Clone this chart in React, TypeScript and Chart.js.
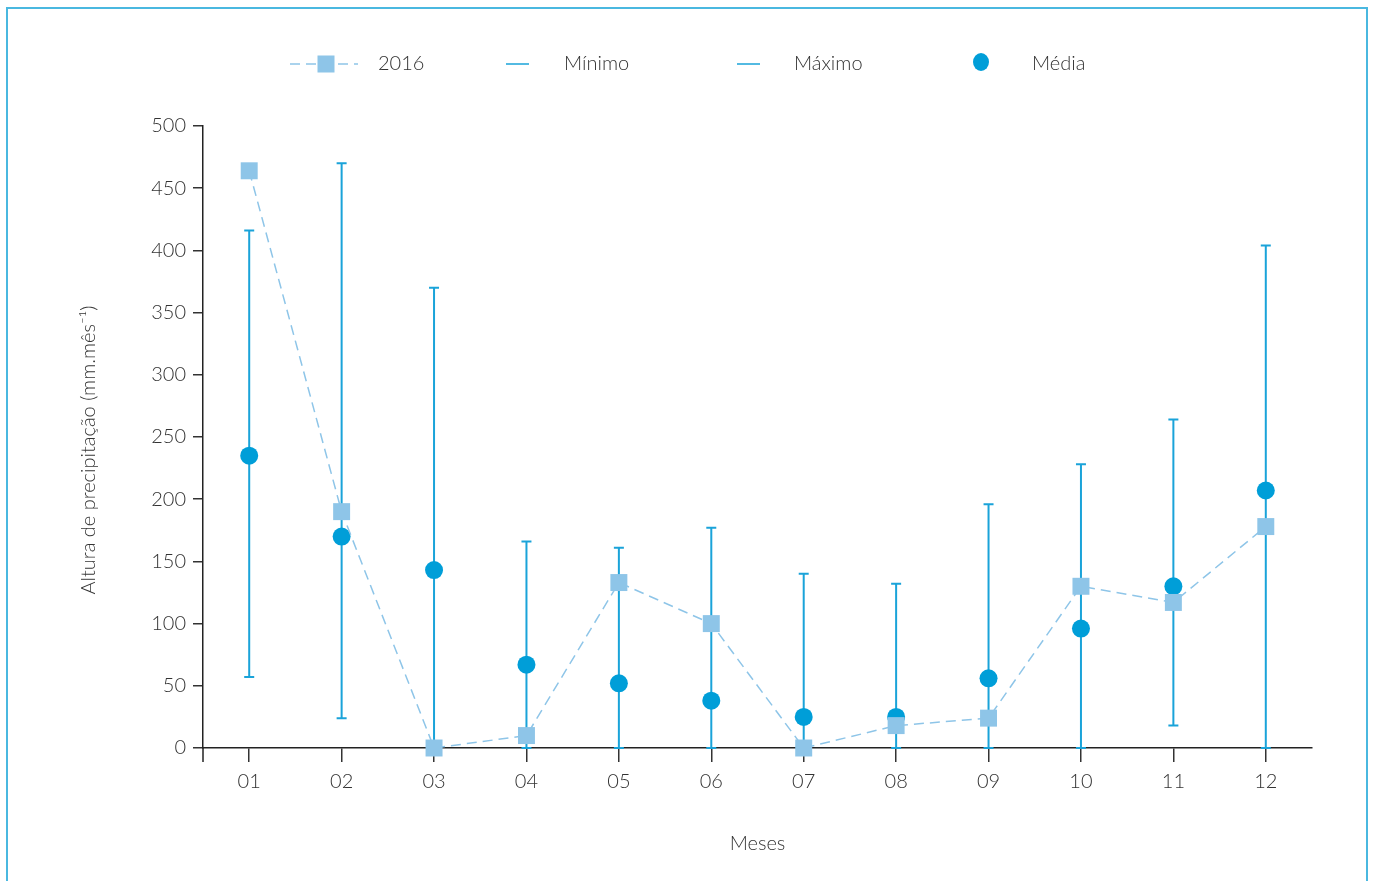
import React, { useEffect, useRef } from "react";
import { Chart, registerables } from "chart.js";

Chart.register(...registerables);

const months = ["01", "02", "03", "04", "05", "06", "07", "08", "09", "10", "11", "12"];
const serie2016 = [464, 190, 0, 10, 133, 100, 0, 18, 24, 130, 117, 178];
const media = [235, 170, 143, 67, 52, 38, 25, 25, 56, 96, 130, 207];
const maximo = [416, 470, 370, 166, 161, 177, 140, 132, 196, 228, 264, 404];
const minimo = [57, 24, 0, 0, 0, 0, 0, 0, 0, 0, 18, 0];
const yTitle = "Altura de precipitação (mm.mês⁻¹)";
const xTitle = "Meses";

const FONT = "Lato, 'Open Sans', sans-serif";
const TEXT = "#333333";
const LIGHT = "#8ec5e8";
const DARKBLUE = "#009ed8";
const BAR = "#1aa3d9";
const FS = 20;

const errorBarPlugin = {
  id: "errorBars",
  beforeDatasetsDraw(chart: any) {
    const { ctx, scales } = chart;
    const xs = scales.x;
    const ys = scales.y;
    ctx.save();
    ctx.strokeStyle = BAR;
    ctx.lineWidth = 2;
    for (let i = 0; i < months.length; i++) {
      const x = xs.getPixelForValue(i);
      const yTop = ys.getPixelForValue(maximo[i]);
      const yBot = ys.getPixelForValue(minimo[i]);
      ctx.beginPath();
      ctx.moveTo(x, yTop);
      ctx.lineTo(x, yBot);
      ctx.moveTo(x - 5, yTop);
      ctx.lineTo(x + 5, yTop);
      ctx.moveTo(x - 5, yBot);
      ctx.lineTo(x + 5, yBot);
      ctx.stroke();
    }
    const area = chart.chartArea;
    ctx.strokeStyle = "#222";
    ctx.lineWidth = 1.5;
    ctx.beginPath();
    ctx.moveTo(area.left, area.bottom);
    ctx.lineTo(area.left, area.bottom + 14);
    ctx.stroke();
    ctx.restore();
  },
};

const legendPlugin = {
  id: "customLegend",
  afterDraw(chart: any) {
    const { ctx } = chart;
    const y = 64;
    ctx.save();
    ctx.font = `300 ${FS}px ${FONT}`;
    ctx.fillStyle = TEXT;
    ctx.textBaseline = "middle";
    ctx.textAlign = "left";
    ctx.strokeStyle = LIGHT;
    ctx.lineWidth = 1.5;
    ctx.setLineDash([10, 6]);
    ctx.beginPath();
    ctx.moveTo(290, y);
    ctx.lineTo(358, y);
    ctx.stroke();
    ctx.setLineDash([]);
    ctx.fillStyle = LIGHT;
    ctx.fillRect(317.5, y - 8.5, 17, 17);
    ctx.fillStyle = TEXT;
    ctx.fillText("2016", 378, y);
    ctx.strokeStyle = BAR;
    ctx.lineWidth = 1.5;
    ctx.beginPath();
    ctx.moveTo(506, y);
    ctx.lineTo(529, y);
    ctx.stroke();
    ctx.fillText("Mínimo", 564, y);
    ctx.beginPath();
    ctx.moveTo(737, y);
    ctx.lineTo(760, y);
    ctx.stroke();
    ctx.fillText("Máximo", 794, y);
    ctx.fillStyle = DARKBLUE;
    ctx.beginPath();
    ctx.ellipse(981, 62, 8, 9, 0, 0, Math.PI * 2);
    ctx.fill();
    ctx.fillStyle = TEXT;
    ctx.fillText("Média", 1032, y);

    // y-axis title
    ctx.translate(89, 450);
    ctx.rotate(-Math.PI / 2);
    ctx.textAlign = "center";
    ctx.textBaseline = "middle";
    ctx.fillText(yTitle, 0, 0);
    ctx.restore();
  },
};

export default function App() {
  const ref = useRef<HTMLCanvasElement | null>(null);
  useEffect(() => {
    document.body.style.overflow = "hidden";
    if (!ref.current) return;
    const chart = new Chart(ref.current, {
      type: "line",
      data: {
        labels: months,
        datasets: [
          {
            label: "2016",
            data: serie2016,
            borderColor: LIGHT,
            backgroundColor: LIGHT,
            borderWidth: 1.5,
            borderDash: [10, 6],
            pointStyle: "rect",
            pointRadius: 12,
            pointBorderWidth: 0,
            pointBackgroundColor: LIGHT,
            tension: 0,
            clip: false,
          },
          {
            label: "Média",
            data: media,
            showLine: false,
            pointStyle: "circle",
            pointRadius: 9,
            pointBorderWidth: 0,
            pointBackgroundColor: DARKBLUE,
            borderColor: DARKBLUE,
            backgroundColor: DARKBLUE,
            clip: false,
          },
          {
            label: "Mínimo",
            data: minimo,
            showLine: false,
            pointRadius: 0,
            borderColor: BAR,
          },
          {
            label: "Máximo",
            data: maximo,
            showLine: false,
            pointRadius: 0,
            borderColor: BAR,
          },
        ],
      },
      options: {
        animation: false,
        responsive: false,
        maintainAspectRatio: false,
        devicePixelRatio: 1,
        layout: { padding: { left: 0, right: 61, top: 126, bottom: 0 } },
        plugins: {
          legend: { display: false },
          tooltip: { enabled: false },
          title: { display: false },
        },
        scales: {
          x: {
            type: "category",
            offset: true,
            grid: {
              display: true,
              drawOnChartArea: false,
              drawTicks: true,
              tickLength: 14,
              color: "#333",
              lineWidth: 1.5,
              offset: false,
            },
            border: { display: true, color: "#222", width: 1.5 },
            ticks: {
              color: TEXT,
              font: { family: FONT, size: FS, weight: "300" },
              padding: 7.5,
              maxRotation: 0,
            },
            title: {
              display: true,
              text: xTitle,
              color: TEXT,
              font: { family: FONT, size: FS, weight: "300" },
              padding: { top: 0, bottom: 25 },
            },
            afterFit(scale: any) {
              scale.height = 133;
            },
          },
          y: {
            min: 0,
            max: 500,
            ticks: {
              stepSize: 50,
              color: TEXT,
              font: { family: FONT, size: FS, weight: "300" },
              padding: 7,
            },
            grid: {
              display: true,
              drawOnChartArea: false,
              drawTicks: true,
              tickLength: 10,
              color: "#333",
              lineWidth: 1.5,
            },
            border: { display: true, color: "#222", width: 1.5 },
            title: { display: false },
            afterFit(scale: any) {
              scale.width = 203;
            },
          },
        },
      },
      plugins: [errorBarPlugin, legendPlugin],
    });
    return () => chart.destroy();
  }, []);

  return (
    <div>
      <div
        style={{
          position: "fixed",
          left: 6,
          top: 7,
          width: 1362,
          height: 900,
          border: "2px solid #4ab8e0",
          boxSizing: "border-box",
        }}
      />
      <canvas
        ref={ref}
        width={1373}
        height={881}
        style={{ position: "fixed", left: 0, top: 0, display: "block" }}
      />
    </div>
  );
}
